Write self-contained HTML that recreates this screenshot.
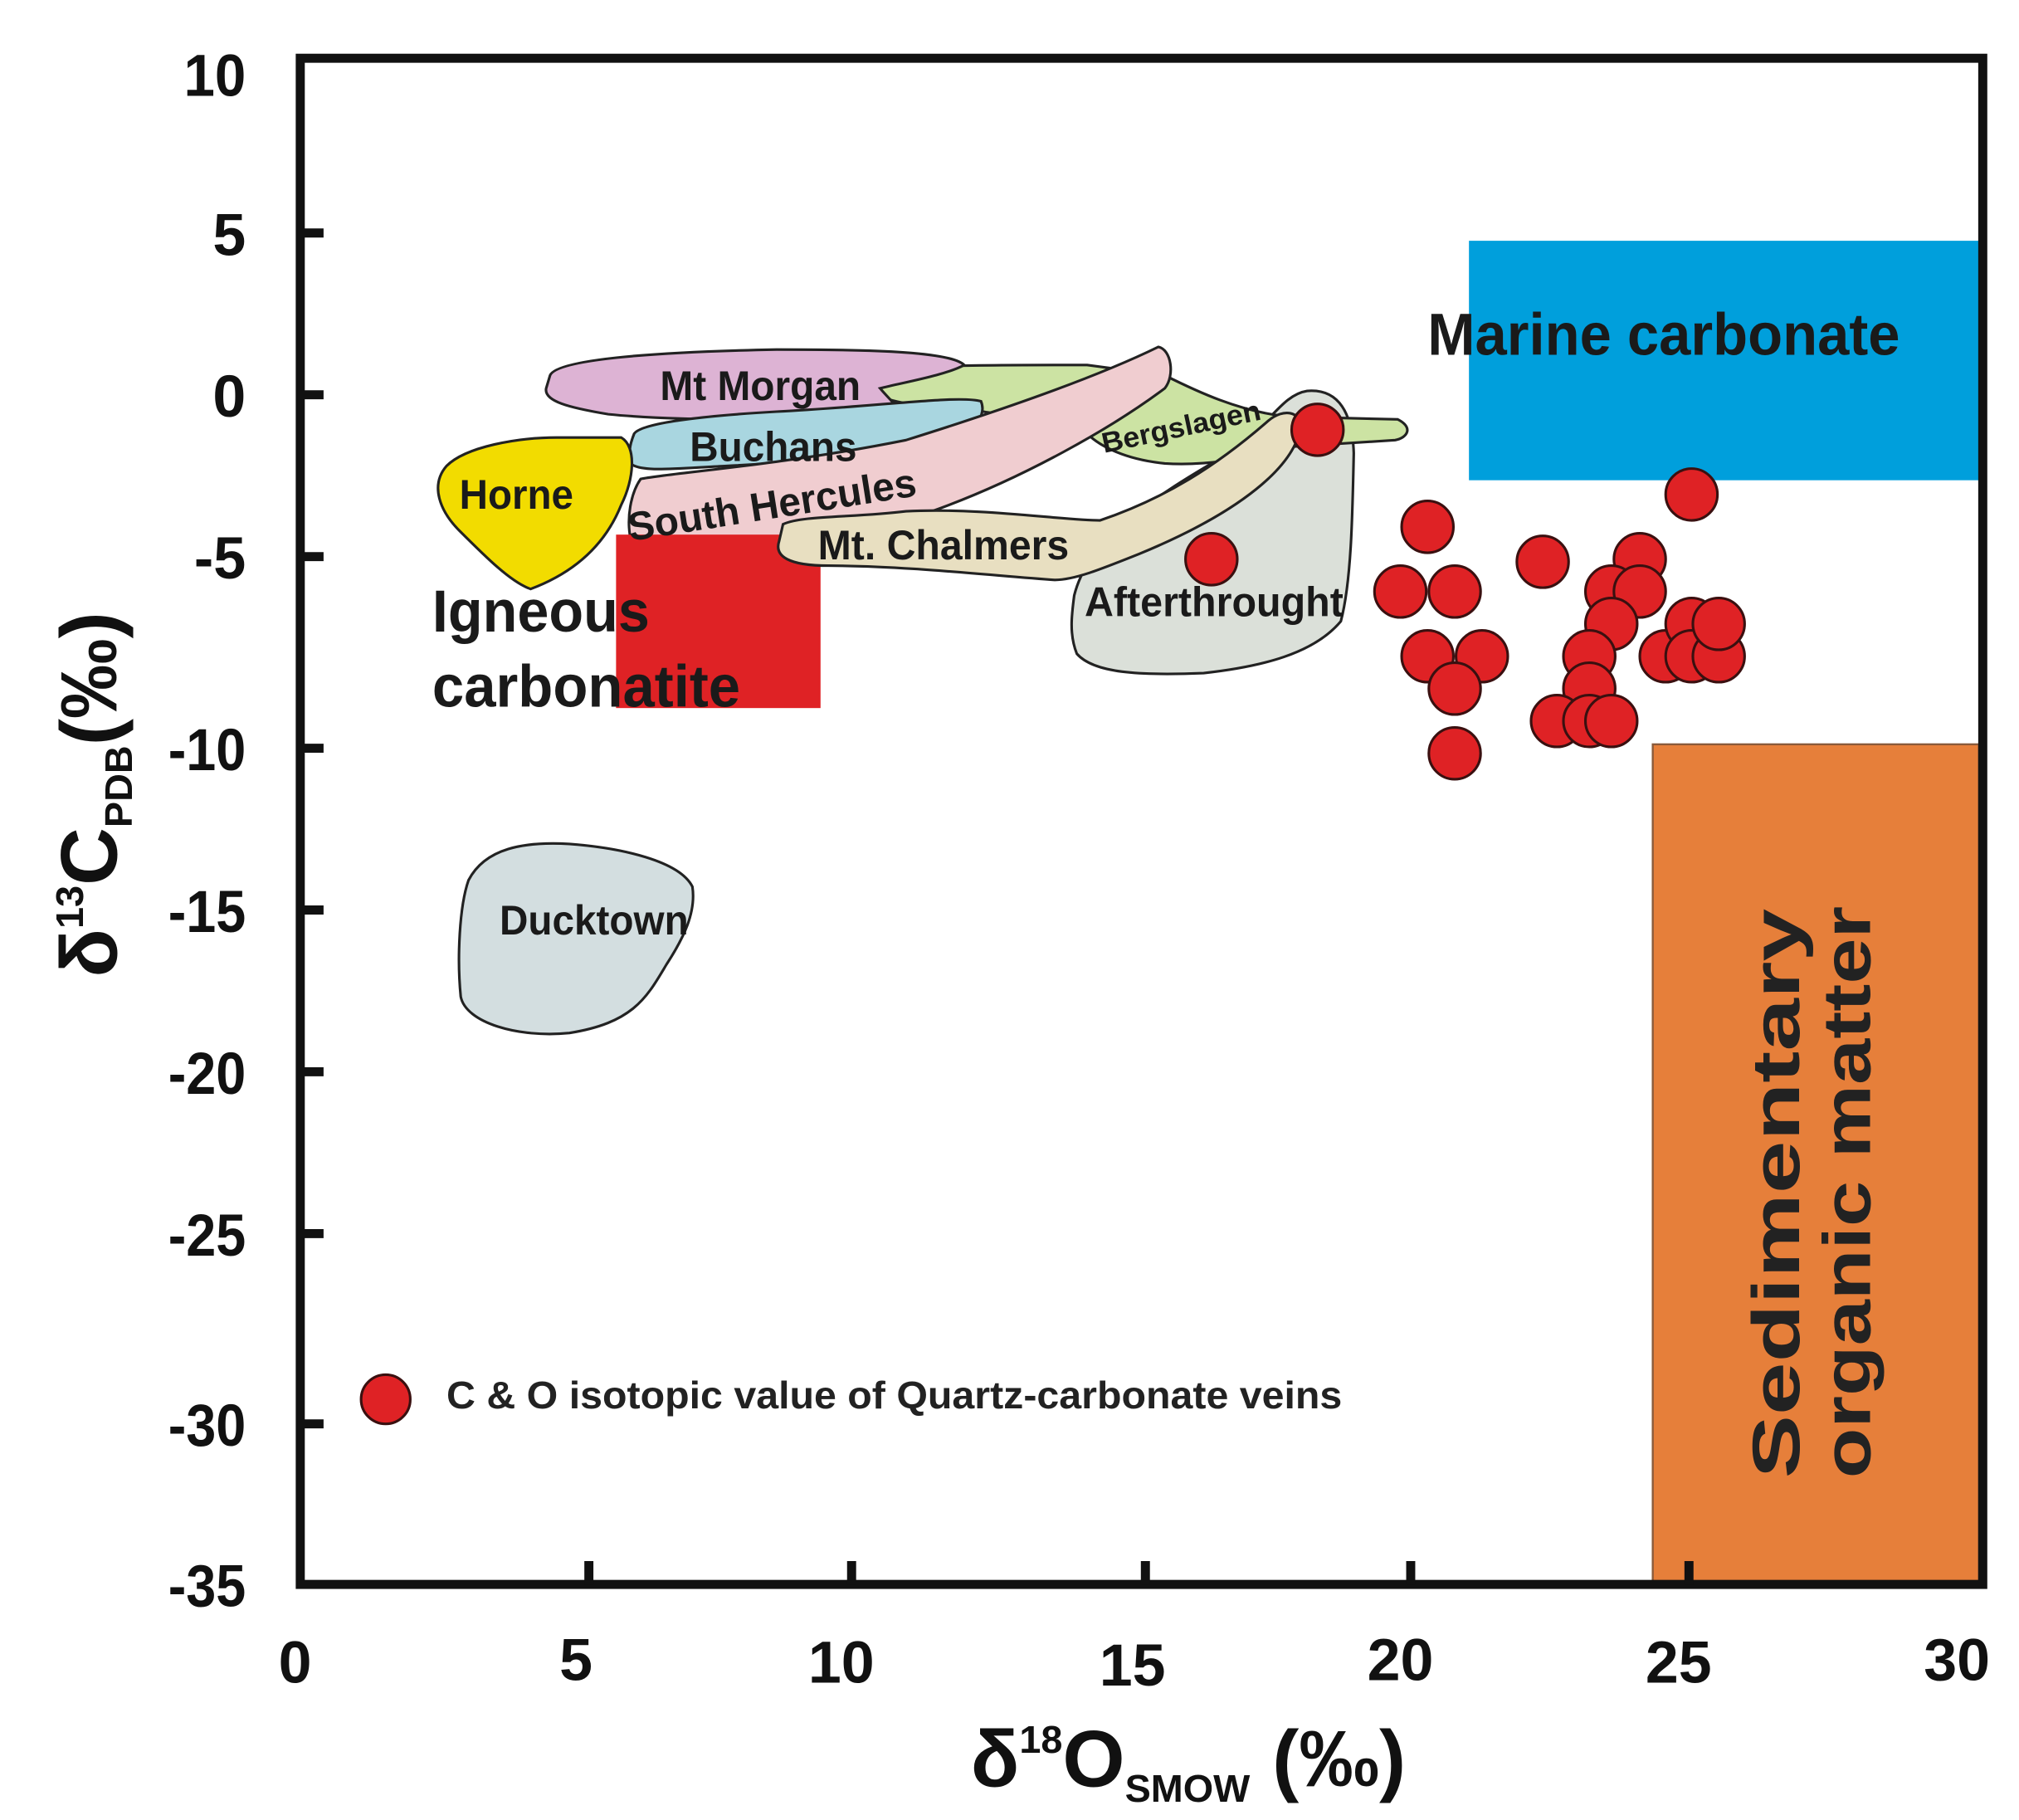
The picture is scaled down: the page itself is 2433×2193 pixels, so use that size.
<!DOCTYPE html>
<html><head><meta charset="utf-8"><style>
html,body{margin:0;padding:0;background:#fff;}
svg{display:block;}
text{font-family:"Liberation Sans",Arial,sans-serif;font-weight:bold;}
</style></head><body>
<svg width="2433" height="2193" viewBox="0 0 1560 1406" preserveAspectRatio="none" xmlns="http://www.w3.org/2000/svg">
<rect x="1135" y="186" width="394" height="185" fill="#009fdc"/>
<rect x="1277" y="575" width="252" height="649" fill="#e67f3a" stroke="#8a5a3a" stroke-width="1.5"/>
<path d="M362,680 C375,655 405,650 440,652 C480,655 525,665 535,685 C538,705 528,725 515,745 C500,770 490,790 440,798 C400,802 360,790 356,770 C353,740 355,700 362,680 Z" fill="#d3dee0" stroke="#222" stroke-width="2"/>
<path d="M830,460 C840,420 880,390 950,350 C980,330 990,305 1010,302 C1035,300 1045,320 1046,350 C1045,400 1044,450 1036,480 C1015,505 975,515 930,520 C880,522 845,520 832,505 C826,490 828,475 830,460 Z" fill="#dbe0d9" stroke="#222" stroke-width="2"/>
<path d="M680,290 C690,282 740,282 840,282 L900,290 C920,300 960,320 1000,322 L1080,324 C1092,330 1088,338 1078,340 L1000,345 C960,355 930,360 900,358 C870,355 850,345 840,335 C810,320 780,322 760,318 C720,315 690,312 678,305 Z" fill="#cce3a3" stroke="#222" stroke-width="2"/>
<path d="M425,290 C430,278 500,272 600,270 C680,270 735,272 745,282 C730,290 700,295 680,300 C690,312 700,318 690,322 C600,325 520,325 470,320 C440,315 420,310 422,300 Z" fill="#ddb3d4" stroke="#222" stroke-width="2"/>
<path d="M490,335 C495,328 530,322 600,318 C680,314 740,305 758,310 C762,320 755,330 740,338 C700,350 640,356 560,360 C520,362 495,365 487,358 C485,348 488,340 490,335 Z" fill="#a9d6e0" stroke="#222" stroke-width="2"/>
<path d="M495,370 C520,365 600,360 700,340 C780,315 850,290 895,268 C905,270 908,290 900,300 C860,330 790,370 720,395 C650,410 600,420 560,420 C525,422 500,425 488,420 C483,400 488,380 495,370 Z" fill="#f0cdd0" stroke="#222" stroke-width="2"/>
<path d="M345,360 C360,345 400,338 430,338 L480,338 C492,345 490,370 480,390 C470,415 450,440 410,455 C395,450 375,430 355,410 C340,395 332,375 345,360 Z" fill="#f2dc00" stroke="#222" stroke-width="2"/>
<rect x="476" y="413" width="158" height="134" fill="#df2225"/>
<path d="M605,405 C620,398 660,400 700,395 C760,392 820,402 850,402 C900,385 940,360 980,325 C992,315 1005,318 1005,330 C1000,360 960,395 880,428 C850,440 830,448 815,448 C770,445 700,437 640,437 C610,437 598,430 602,418 Z" fill="#e8dfc1" stroke="#222" stroke-width="2"/>
<g fill="#1a1a1a" lengthAdjust="spacingAndGlyphs">
<text x="510" y="309" font-size="32" textLength="155" lengthAdjust="spacingAndGlyphs">Mt Morgan</text>
<text x="533" y="356" font-size="32" textLength="129" lengthAdjust="spacingAndGlyphs">Buchans</text>
<text x="355" y="393" font-size="32" textLength="88" lengthAdjust="spacingAndGlyphs">Horne</text>
<text x="487" y="418" font-size="31" textLength="225" lengthAdjust="spacingAndGlyphs" transform="rotate(-9 487 418)">South Hercules</text>
<text x="632" y="432" font-size="32" textLength="194" lengthAdjust="spacingAndGlyphs">Mt. Chalmers</text>
<text x="853" y="350" font-size="22" textLength="125" lengthAdjust="spacingAndGlyphs" transform="rotate(-12 853 350)">Bergslagen</text>
<text x="838" y="476" font-size="32" textLength="200" lengthAdjust="spacingAndGlyphs">Afterthrought</text>
<text x="386" y="722" font-size="32" textLength="146" lengthAdjust="spacingAndGlyphs">Ducktown</text>
<text x="334" y="488" font-size="46" font-weight="normal" textLength="168" lengthAdjust="spacingAndGlyphs">Igneous</text>
<text x="334" y="546" font-size="46" font-weight="normal" textLength="238" lengthAdjust="spacingAndGlyphs">carbonatite</text>
<text x="1103" y="274" font-size="46" textLength="365" lengthAdjust="spacingAndGlyphs">Marine carbonate</text>
</g>
<text transform="translate(1390 1142) rotate(-90)" font-size="52" fill="#222" textLength="440" lengthAdjust="spacingAndGlyphs">Sedimentary</text>
<text transform="translate(1445 1142) rotate(-90)" font-size="52" fill="#222" textLength="442" lengthAdjust="spacingAndGlyphs">organic matter</text>
<g fill="#df2225" stroke="#3a1010" stroke-width="2">
<circle cx="1018" cy="332" r="20"/><circle cx="936" cy="432" r="20"/>
<circle cx="1103" cy="407" r="20"/><circle cx="1082" cy="457" r="20"/><circle cx="1124" cy="457" r="20"/>
<circle cx="1103" cy="507" r="20"/><circle cx="1145" cy="507" r="20"/><circle cx="1124" cy="532" r="20"/>
<circle cx="1124" cy="582" r="20"/><circle cx="1192" cy="434" r="20"/>
<circle cx="1267" cy="432" r="20"/><circle cx="1245" cy="457" r="20"/><circle cx="1267" cy="457" r="20"/>
<circle cx="1245" cy="482" r="20"/><circle cx="1228" cy="507" r="20"/><circle cx="1228" cy="532" r="20"/>
<circle cx="1203" cy="557" r="20"/><circle cx="1228" cy="557" r="20"/><circle cx="1245" cy="557" r="20"/>
<circle cx="1307" cy="382" r="20"/><circle cx="1287" cy="507" r="20"/><circle cx="1307" cy="482" r="20"/>
<circle cx="1307" cy="507" r="20"/><circle cx="1328" cy="507" r="20"/><circle cx="1328" cy="482" r="20"/>
<circle cx="298" cy="1081" r="19"/>
</g>
<text x="345" y="1088" font-size="30" fill="#222" textLength="692" lengthAdjust="spacingAndGlyphs">C &amp; O isotopic value of Quartz-carbonate veins</text>
<rect x="232" y="45" width="1300" height="1179" fill="none" stroke="#111" stroke-width="7"/>
<g stroke="#111" stroke-width="7">
<line x1="232" y1="180" x2="250" y2="180"/><line x1="232" y1="305" x2="250" y2="305"/>
<line x1="232" y1="430" x2="250" y2="430"/><line x1="232" y1="578" x2="250" y2="578"/>
<line x1="232" y1="703" x2="250" y2="703"/><line x1="232" y1="828" x2="250" y2="828"/>
<line x1="232" y1="953" x2="250" y2="953"/><line x1="232" y1="1100" x2="250" y2="1100"/>
<line x1="455" y1="1224" x2="455" y2="1206"/><line x1="658" y1="1224" x2="658" y2="1206"/>
<line x1="885" y1="1224" x2="885" y2="1206"/><line x1="1090" y1="1224" x2="1090" y2="1206"/>
<line x1="1305" y1="1224" x2="1305" y2="1206"/>
</g>
<g font-size="46" fill="#111" text-anchor="end">
<text x="190" y="74" textLength="48" lengthAdjust="spacingAndGlyphs">10</text><text x="190" y="197">5</text><text x="190" y="322">0</text>
<text x="190" y="447" textLength="40" lengthAdjust="spacingAndGlyphs">-5</text><text x="190" y="595" textLength="60" lengthAdjust="spacingAndGlyphs">-10</text><text x="190" y="720" textLength="60" lengthAdjust="spacingAndGlyphs">-15</text>
<text x="190" y="845" textLength="60" lengthAdjust="spacingAndGlyphs">-20</text><text x="190" y="970" textLength="60" lengthAdjust="spacingAndGlyphs">-25</text><text x="190" y="1117" textLength="60" lengthAdjust="spacingAndGlyphs">-30</text>
<text x="190" y="1241" textLength="60" lengthAdjust="spacingAndGlyphs">-35</text>
</g>
<g font-size="46" fill="#111" text-anchor="middle">
<text x="228" y="1300">0</text><text x="445" y="1298">5</text><text x="650" y="1300">10</text>
<text x="875" y="1302">15</text><text x="1082" y="1298">20</text><text x="1297" y="1300">25</text>
<text x="1512" y="1298">30</text>
</g>
<text x="750" y="1380" font-size="62" fill="#111">δ<tspan font-size="30" dy="-26">18</tspan><tspan dy="26">O</tspan><tspan font-size="30" dy="12">SMOW</tspan><tspan dy="-12">  (‰)</tspan></text>
<text transform="translate(90 755) rotate(-90)" font-size="62" fill="#111">δ<tspan font-size="30" dy="-26">13</tspan><tspan dy="26">C</tspan><tspan font-size="30" dy="12">PDB</tspan><tspan dy="-12">(‰)</tspan></text>
</svg>
</body></html>
